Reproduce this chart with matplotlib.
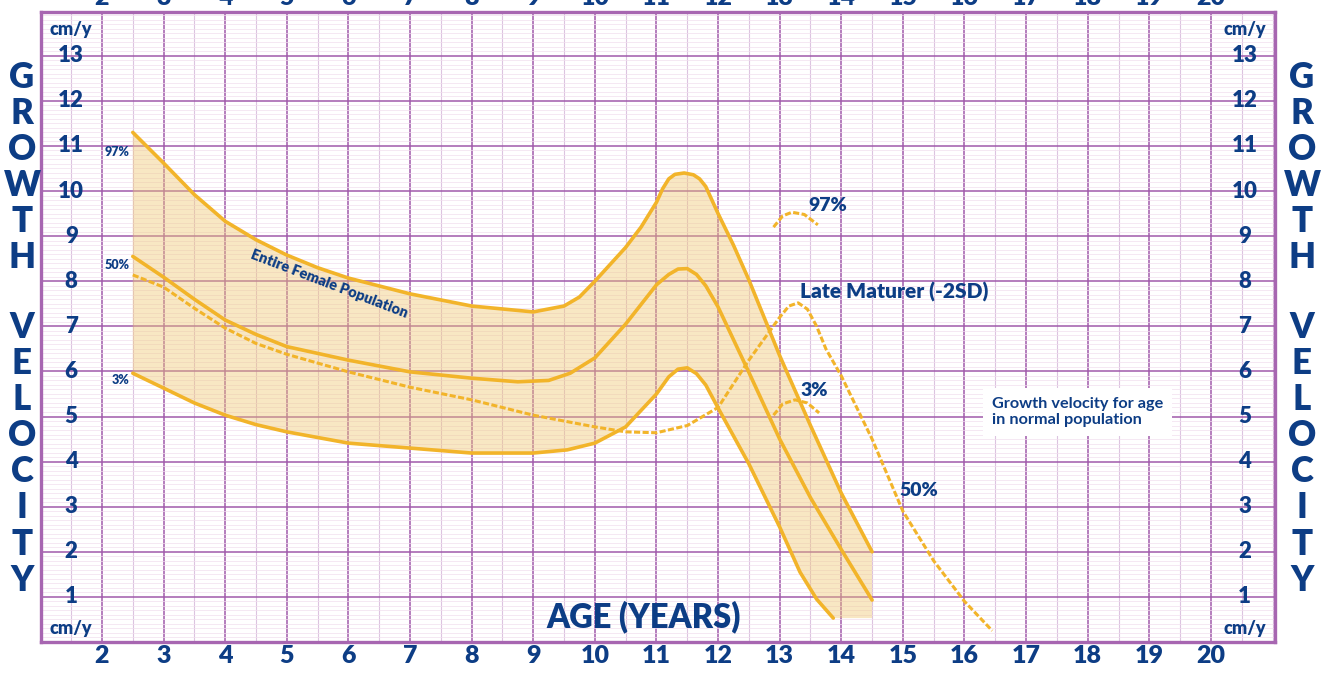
import numpy as np
import matplotlib
matplotlib.use("Agg")
import matplotlib.pyplot as plt
from matplotlib.ticker import MultipleLocator

# ---- data (age in years, velocity in cm/y) ----
age_97 = [2.5, 3, 3.5, 4, 4.5, 5, 5.5, 6, 7, 8, 9, 9.5, 9.75, 10, 10.5, 10.75, 11, 11.1,
          11.2, 11.3, 11.45, 11.6, 11.7, 11.8, 12, 12.25, 12.5, 13, 13.5, 14, 14.5]
vel_97 = [11.3, 10.62, 9.92, 9.33, 8.92, 8.58, 8.3, 8.07, 7.72, 7.45, 7.32, 7.45, 7.65, 8.0,
          8.75, 9.2, 9.75, 10.05, 10.27, 10.37, 10.4, 10.36, 10.27, 10.1, 9.5, 8.8, 8.03,
          6.35, 4.8, 3.3, 2.0]

age_50 = [2.5, 3, 3.5, 4, 4.5, 5, 6, 7, 8, 8.75, 9.25, 9.6, 10, 10.5, 11, 11.2, 11.35,
          11.5, 11.65, 11.8, 12, 12.5, 13, 13.5, 14, 14.5]
vel_50 = [8.55, 8.09, 7.6, 7.14, 6.82, 6.55, 6.25, 5.99, 5.85, 5.77, 5.8, 5.96, 6.3, 7.05,
          7.92, 8.15, 8.27, 8.28, 8.15, 7.9, 7.43, 5.98, 4.5, 3.2, 2.05, 0.93]

age_3 = [2.5, 3, 3.5, 4, 4.5, 5, 6, 7, 8, 9, 9.55, 10, 10.5, 11, 11.2, 11.35, 11.5,
         11.65, 11.8, 12, 12.5, 13, 13.33, 13.6, 13.87]
vel_3 = [5.96, 5.63, 5.3, 5.03, 4.82, 4.66, 4.41, 4.3, 4.19, 4.19, 4.26, 4.41, 4.77, 5.5,
         5.88, 6.05, 6.08, 5.95, 5.7, 5.19, 3.95, 2.55, 1.55, 0.95, 0.53]
band_floor = 0.53   # flat bottom of shaded band after the 3% line ends

age_late = [2.5, 3, 3.5, 4, 4.5, 5, 6, 7, 8, 9, 10, 10.5, 11, 11.5, 12, 12.5, 13, 13.15,
            13.3, 13.45, 13.6, 13.75, 14, 14.5, 15, 15.5, 16, 16.45]
vel_late = [8.14, 7.87, 7.4, 6.96, 6.62, 6.38, 5.99, 5.65, 5.37, 5.03, 4.77, 4.66, 4.64, 4.8,
            5.2, 6.25, 7.2, 7.45, 7.52, 7.38, 7.0, 6.5, 5.9, 4.5, 2.9, 1.8, 0.9, 0.25]

age_late97 = [12.9, 13.05, 13.2, 13.4, 13.62]
vel_late97 = [9.2, 9.45, 9.53, 9.48, 9.25]
age_late3 = [12.9, 13.05, 13.25, 13.45, 13.64]
vel_late3 = [5.03, 5.28, 5.37, 5.3, 5.08]

x_ticks = list(range(2, 21))
y_ticks = list(range(1, 14))

NAVY = "#0d3d85"
GOLD = "#f2b42a"
PURPLE = "#a05aab"
FONT = ["Lato", "DejaVu Sans"]

plt.rcParams["font.family"] = FONT

fig = plt.figure(figsize=(13.25, 6.74), dpi=100)
W, H = 1325, 674
ax = fig.add_axes([41 / W, 1 - 642 / H, (1275 - 41) / W, (642 - 12) / H])
ax.set_xlim(1.01, 21.04)
ax.set_ylim(0, 13.97)

# grid
ax.set_axisbelow(True)
ax.xaxis.set_major_locator(MultipleLocator(1))
ax.xaxis.set_minor_locator(MultipleLocator(0.5))
ax.yaxis.set_major_locator(MultipleLocator(1))
ax.yaxis.set_minor_locator(MultipleLocator(0.1))
ax.grid(which="major", color=PURPLE, lw=1.1)
ax.grid(which="minor", axis="x", color="#dcc4e0", lw=0.8)
ax.grid(which="minor", axis="y", color="#f1dfee", lw=0.5)
for s in ax.spines.values():
    s.set_color("#a766b1")
    s.set_linewidth(2.4)

ax.set_xticks(x_ticks)
ax.set_yticks(y_ticks)
ax.tick_params(which="both", length=0)
ax.tick_params(axis="x", top=True, labeltop=True, bottom=True, labelbottom=True,
               labelsize=18, labelcolor=NAVY, pad=2)
ax.tick_params(axis="y", left=False, labelleft=False)
for t in ax.xaxis.get_major_ticks():
    t.label1.set_fontweight("heavy")
    t.label2.set_fontweight("heavy")

# y labels drawn inside the frame on both sides
for v in y_ticks:
    for xp in (1.5, 20.55):
        ax.text(xp, v, str(v), ha="center", va="center", fontsize=16,
                fontweight="heavy", color=NAVY)
for xp in (1.5, 20.55):
    ax.text(xp, 13.58, "cm/y", ha="center", va="center", fontsize=13,
            fontweight="heavy", color=NAVY)
    ax.text(xp, 0.31, "cm/y", ha="center", va="center", fontsize=13,
            fontweight="heavy", color=NAVY)

# shaded band for entire female population
band_x = age_97 + [age_97[-1]] + age_3[::-1]
band_y = vel_97 + [band_floor] + vel_3[::-1]
ax.fill(band_x, band_y, color="#f0c870", alpha=0.42, lw=0, zorder=2)

for a, v in ((age_97, vel_97), (age_50, vel_50), (age_3, vel_3)):
    ax.plot(a, v, color=GOLD, lw=2.6, solid_capstyle="round", solid_joinstyle="round", zorder=3)
for a, v in ((age_late, vel_late), (age_late97, vel_late97), (age_late3, vel_late3)):
    ax.plot(a, v, color=GOLD, lw=2.2, ls=(0, (2, 0.8)), zorder=3)

# annotations
for y, s in ((10.86, "97%"), (8.36, "50%"), (5.81, "3%")):
    ax.text(2.45, y, s, ha="right", va="center", fontsize=9, fontweight="heavy", color=NAVY)
ax.text(5.69, 7.94, "Entire Female Population", rotation=-21, ha="center", va="center",
        fontsize=10.5, fontweight="heavy", color=NAVY, rotation_mode="anchor")
ax.text(13.46, 9.69, "97%", ha="left", va="center", fontsize=14, fontweight="heavy", color=NAVY)
ax.text(13.33, 7.76, "Late Maturer (-2SD)", ha="left", va="center", fontsize=15,
        fontweight="heavy", color=NAVY)
ax.text(13.33, 5.57, "3%", ha="left", va="center", fontsize=14, fontweight="heavy", color=NAVY)
ax.text(14.95, 3.37, "50%", ha="left", va="center", fontsize=14, fontweight="heavy", color=NAVY)
ax.text(16.45, 5.1, "Growth velocity for age\nin normal population", ha="left", va="center",
        fontsize=11.7, fontweight="bold", color=NAVY, linespacing=1.15,
        bbox=dict(boxstyle="square,pad=0.55", fc="white", ec="none"))
ax.text(10.8, 0.55, "AGE (YEARS)", ha="center", va="center", fontsize=23.5,
        fontweight="heavy", color=NAVY)

# vertical side titles
for xpx in (22, 1302):
    for i, ch in enumerate("GROWTH"):
        fig.text(xpx / W, 1 - (78 + i * 35.8) / H, ch, ha="center", va="center",
                 fontsize=25, fontweight="heavy", color=NAVY)
    for i, ch in enumerate("VELOCITY"):
        fig.text(xpx / W, 1 - (327 + i * 36.2) / H, ch, ha="center", va="center",
                 fontsize=25, fontweight="heavy", color=NAVY)

fig.savefig("out.png", dpi=100)
